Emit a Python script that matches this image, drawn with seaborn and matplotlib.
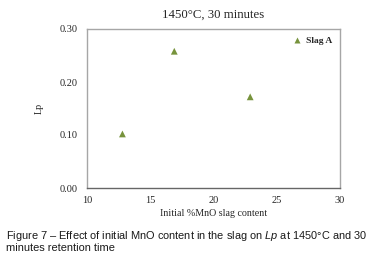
import matplotlib
matplotlib.use("Agg")
import matplotlib.pyplot as plt
import seaborn as sns
import pandas as pd

# data
mno = [12.8, 16.9, 22.9]
lp = [0.102, 0.258, 0.172]
series = ["Slag A", "Slag A", "Slag A"]

df = pd.DataFrame({"MnO": mno, "Lp": lp, "Slag": series})

sns.set_style("white")
plt.rcParams["font.family"] = ["Liberation Serif", "DejaVu Serif"]
plt.rcParams["mathtext.fontset"] = "custom"
plt.rcParams["mathtext.it"] = "Liberation Sans:italic"

fig = plt.figure(figsize=(3.81, 2.59), dpi=100)
ax = fig.add_axes([87 / 381, 1 - 188 / 259, 253 / 381, 159 / 259])

sns.scatterplot(data=df, x="MnO", y="Lp", hue="Slag", palette=["#77933C"],
                marker="^", s=24, edgecolor="none", ax=ax)

ax.set_xlim(10, 30)
ax.set_ylim(0, 0.30)
ax.set_xticks([10, 15, 20, 25, 30])
ax.set_yticks([0.0, 0.1, 0.2, 0.3])
ax.set_yticklabels(["0.00", "0.10", "0.20", "0.30"])
ax.tick_params(labelsize=7.5, length=0)
ax.tick_params(axis="x", pad=6)
ax.tick_params(axis="y", pad=6.5)
for s in ax.spines.values():
    s.set_color("#a6a6a6")
    s.set_linewidth(1.0)
ax.spines["bottom"].set_color("#666666")

ax.set_title("1450°C, 30 minutes", fontsize=9.2, pad=8)
ax.set_xlabel("Initial %MnO slag content", fontsize=7.2, labelpad=3)
ax.set_ylabel("Lp", fontsize=7.2, labelpad=12)

leg = ax.legend(loc="upper right", frameon=False, fontsize=6.8, handletextpad=0.0,
                markerscale=0.9, borderaxespad=0.4, bbox_to_anchor=(1.0, 1.0))
for t in leg.get_texts():
    t.set_fontweight("bold")

cap_font = ["Liberation Sans", "DejaVu Sans"]
fig.text(6 / 381, 1 - 236 / 259,
         "Figure 7 – Effect of initial MnO content in the slag on $\\mathit{Lp}$ at 1450°C and 30",
         fontsize=7.9, family=cap_font, va="center", ha="left", color="#1a1a1a")
fig.text(6 / 381, 1 - 248 / 259, "minutes retention time",
         fontsize=7.9, family=cap_font, va="center", ha="left", color="#1a1a1a")

fig.savefig("out.png", dpi=100)
